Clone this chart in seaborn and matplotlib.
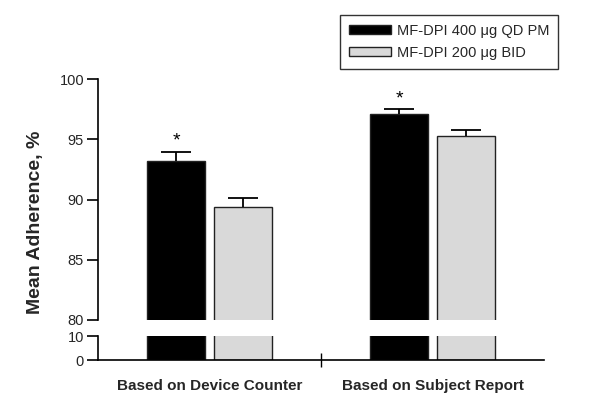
import matplotlib
matplotlib.use("Agg")
import matplotlib.pyplot as plt
import seaborn as sns
import pandas as pd
import numpy as np

categories = ["Based on Device Counter", "Based on Subject Report"]
treatments = ["MF-DPI 400 \u03bcg QD PM", "MF-DPI 200 \u03bcg BID"]
values_qdpm = [93.2, 97.1]
values_bid = [89.4, 95.3]
err_qdpm = [0.8, 0.4]
err_bid = [0.7, 0.45]
significant_qdpm = [True, True]
top_ticks = [80, 85, 90, 95, 100]
bottom_ticks = [0, 10]

sns.set_theme(style="white")
plt.rcParams['font.family'] = ['Liberation Sans', 'DejaVu Sans']

df = pd.DataFrame({
    "category": categories * 2,
    "treatment": [treatments[0]] * 2 + [treatments[1]] * 2,
    "value": values_qdpm + values_bid,
})
errs = {treatments[0]: err_qdpm, treatments[1]: err_bid}

fig = plt.figure(figsize=(6.0, 4.19), dpi=100)
left, right = 98 / 600, 544 / 600
ax_top = fig.add_axes([left, 1 - 320 / 419, right - left, (320 - 79.3) / 419])
ax_bot = fig.add_axes([left, 1 - 360 / 419, right - left, (360 - 336) / 419])

palette = {treatments[0]: "black", treatments[1]: "#d9d9d9"}

for ax in (ax_top, ax_bot):
    sns.barplot(data=df, x="category", y="value", hue="treatment",
                hue_order=treatments, order=categories, palette=palette,
                width=0.6, gap=0.12, edgecolor="#222222", linewidth=1.0,
                errorbar=None, legend=(ax is ax_top), ax=ax)
    ax.set_xlim(-0.5, 1.5)
    ax.set_xlabel("")
    ax.set_ylabel("")
    for s in ("top", "right"):
        ax.spines[s].set_visible(False)
    for s in ("left", "bottom"):
        ax.spines[s].set_linewidth(1.2)
        ax.spines[s].set_color("black")
    ax.tick_params(axis="y", which="major", direction="out", length=8,
                   width=1.2, color="black", pad=2, labelsize=10.5,
                   left=True)

# error bars (upper only) and asterisks from bar positions
handles, labels = ax_top.get_legend_handles_labels()
ax_top.get_legend().remove()
for cont, trt in zip(ax_top.containers, treatments):
    xs = np.array([p.get_x() + p.get_width() / 2 for p in cont.patches])
    ws = np.array([p.get_width() for p in cont.patches])
    ys = np.array([p.get_height() for p in cont.patches])
    e = np.array(errs[trt])
    ax_top.vlines(xs, ys, ys + e, color="black", linewidth=1.3, zorder=5)
    ax_top.hlines(ys + e, xs - 0.255 * ws, xs + 0.255 * ws, color="black",
                  linewidth=1.3, zorder=5)
    if trt == treatments[0]:
        for x, y, ee, sig in zip(xs, ys, e, significant_qdpm):
            if sig:
                ax_top.text(x, y + ee + 0.15, "*", ha="center", va="bottom",
                            fontsize=14, color="black")

ax_top.set_ylim(80, 100)
ax_top.set_yticks(top_ticks)
ax_top.spines["bottom"].set_visible(False)
ax_top.tick_params(axis="x", bottom=False, labelbottom=False)

ax_bot.set_ylim(0, 10)
ax_bot.set_yticks(bottom_ticks)
ax_bot.tick_params(axis="x", which="major", length=0, pad=14,
                   labelsize=11)
for lbl in ax_bot.get_xticklabels():
    lbl.set_fontweight("bold")
ax_bot.set_xticks([0.5], minor=True)
ax_bot.tick_params(axis="x", which="minor", direction="inout", length=10,
                   width=1.0, color="black", bottom=True)

fig.text(36 / 600, 1 - 222 / 419, "Mean Adherence, %", rotation=90,
         ha="center", va="center", fontsize=14, fontweight="bold")

leg = fig.legend(handles, labels, loc="upper right",
                 bbox_to_anchor=(558 / 600, 1 - 15 / 419),
                 fontsize=10.5, frameon=True, fancybox=False,
                 edgecolor="black", handlelength=2.9, handleheight=0.55,
                 borderpad=0.6, labelspacing=0.55, handletextpad=0.4,
                 borderaxespad=0)
leg.get_frame().set_linewidth(1.0)

fig.savefig("out.png", dpi=100)
